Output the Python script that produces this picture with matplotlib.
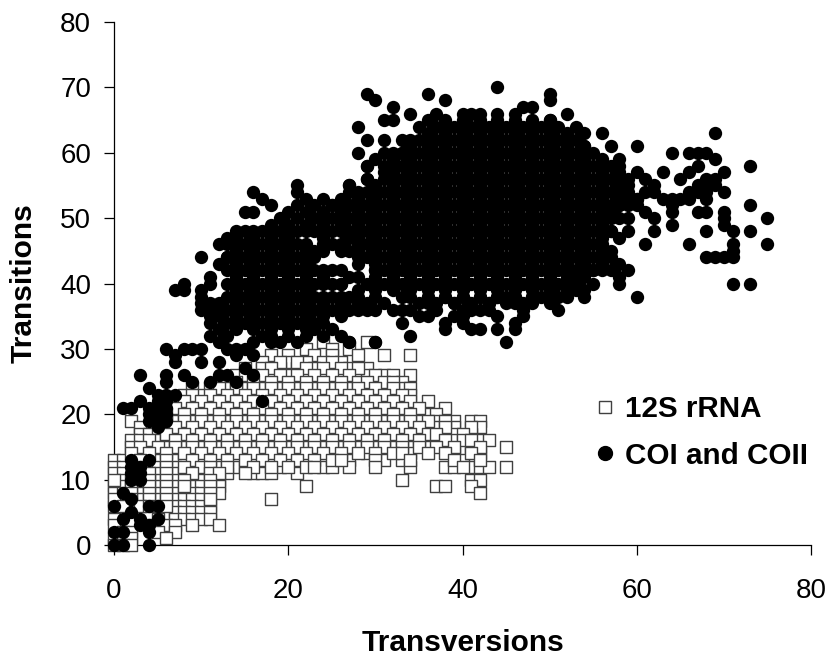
import matplotlib
matplotlib.use('Agg')
import matplotlib.pyplot as plt
from matplotlib.lines import Line2D

plt.rcParams['font.family'] = ['Liberation Sans', 'DejaVu Sans']

# 12S rRNA: transition counts and the transversion counts seen at each
rrna_t = [31, 30, 29, 28, 27, 26, 25, 24, 23, 22, 21, 20, 19, 18, 17, 16, 15, 14, 13, 12, 11, 10, 9, 8, 7, 6, 5, 4, 3, 2, 1, 0]
rrna_x = [
    [24, 29],
    [22, 25, 27],
    [18, 20, 23, 25, 28, 31, 34],
    [17, 20, 22, 24, 26],
    [15, 17, 19, 21, 23, 25, 27, 29],
    [14, 16, 18, 20, 22, 24, 26, 28, 29, 31, 32, 34],
    [13, 15, 17, 19, 21, 23, 25, 27, 30, 33],
    [9, 11, 13, 15, 17, 19, 21, 23, 25, 27, 29, 31, 33, 34],
    [8, 10, 12, 14, 16, 18, 20, 22, 24, 26, 28, 30, 32, 34],
    [7, 9, 11, 13, 15, 17, 19, 21, 23, 25, 27, 29, 31, 33, 36],
    [6, 8, 10, 12, 14, 16, 18, 20, 22, 24, 26, 28, 30, 32, 34, 38],
    [7, 9, 11, 13, 15, 17, 19, 21, 23, 25, 27, 29, 31, 33, 35, 36, 37],
    [2, 5, 7, 9, 11, 13, 15, 17, 19, 21, 23, 25, 27, 29, 31, 33, 35, 37, 39, 41, 42],
    [3, 5, 6, 8, 10, 12, 14, 16, 18, 20, 22, 24, 26, 28, 30, 32, 34, 36, 37, 39, 42],
    [3, 4, 5, 7, 9, 11, 13, 15, 17, 19, 21, 23, 25, 27, 29, 31, 33, 35, 38, 39, 41],
    [2, 3, 5, 6, 8, 10, 12, 14, 16, 18, 20, 22, 24, 26, 28, 30, 32, 34, 36, 39, 42, 43],
    [2, 4, 6, 8, 10, 12, 14, 16, 18, 20, 22, 24, 26, 28, 30, 32, 34, 36, 38, 41, 45],
    [3, 5, 7, 9, 11, 13, 15, 17, 19, 21, 23, 25, 27, 29, 31, 34, 39, 42],
    [0, 1, 5, 7, 8, 10, 12, 14, 16, 18, 20, 22, 24, 27, 31, 33, 40],
    [0, 1, 5, 7, 9, 12, 14, 15, 17, 19, 21, 24, 25, 27, 34, 38, 39, 41, 42, 43, 45],
    [0, 1, 3, 5, 7, 8, 10, 13, 16, 17, 18, 21],
    [1, 3, 5, 7, 9, 10, 12, 33, 41, 42],
    [0, 1, 3, 5, 7, 9, 10, 12, 22, 37, 38, 41],
    [0, 1, 3, 5, 7, 8, 9, 10, 12, 42],
    [1, 3, 5, 7, 8, 9, 10, 18],
    [0, 5, 7, 8, 9, 10, 11],
    [7, 8, 9, 10, 11],
    [0, 5, 7, 8, 9, 10, 11],
    [0, 4, 6, 7, 9, 12],
    [1, 2, 5, 7],
    [0, 1, 2, 6],
    [0, 1, 2],
]

rrna_more_t = [28, 27, 26, 25, 24, 23, 22, 21, 20, 19, 18, 17, 16, 15, 14, 13, 12, 11, 10, 9, 8, 7, 6]
rrna_more_x = [
    [19, 21, 25],
    [18, 22, 24, 26, 28],
    [15, 17, 19, 21, 23, 25, 27, 30],
    [14, 16, 18, 20, 22, 24, 26, 28, 29, 31, 32],
    [12, 14, 16, 18, 20, 22, 24, 26, 28, 30, 32],
    [9, 11, 13, 15, 17, 19, 21, 23, 25, 27, 29, 31, 33],
    [8, 10, 12, 14, 16, 18, 20, 22, 24, 26, 28, 30, 32, 34],
    [7, 9, 11, 13, 15, 17, 19, 21, 23, 25, 27, 29, 31, 33, 35],
    [6, 8, 10, 12, 14, 16, 18, 20, 22, 24, 26, 28, 30, 32, 34],
    [6, 8, 10, 12, 14, 16, 18, 20, 22, 24, 26, 28, 30, 32, 34, 36, 38],
    [7, 9, 11, 13, 15, 17, 19, 21, 23, 25, 27, 29, 31, 33, 35, 38, 41],
    [6, 8, 10, 12, 14, 16, 18, 20, 22, 24, 26, 28, 30, 32, 34, 36, 37, 40],
    [4, 7, 9, 11, 13, 15, 17, 19, 21, 23, 25, 27, 29, 31, 33, 35, 38, 40, 41],
    [3, 5, 7, 9, 11, 13, 15, 17, 19, 21, 23, 25, 27, 29, 31, 33, 35, 37, 39, 42],
    [2, 4, 6, 8, 10, 12, 14, 16, 18, 20, 22, 24, 26, 28, 30, 32, 33, 36, 38, 41],
    [3, 6, 9, 11, 13, 15, 17, 19, 21, 23, 25, 26, 30, 34, 39, 42],
    [3, 6, 8, 10, 11, 13, 16, 18, 20, 22, 23, 30, 40],
    [4, 6, 9, 11, 12, 15],
    [0, 2, 4, 6, 8, 11],
    [2, 4, 6, 8, 11],
    [2, 4, 6, 11],
    [0, 2, 4, 6, 11],
    [1, 3, 4, 6],
]

# COI and COII: the dense main cloud
main_t = [65, 64, 63, 62, 61, 60, 59, 58, 57, 56, 55, 54, 53, 52, 51, 50, 49, 48, 47, 46, 45, 44, 43, 42, 41, 40, 39, 38, 37]
main_x = [
    [38, 40, 42, 44, 46, 48, 50],
    [37, 39, 41, 43, 45, 47, 49, 51],
    [36, 38, 40, 42, 44, 46, 48, 50, 52],
    [33, 35, 37, 39, 41, 43, 45, 47, 49, 51, 53],
    [34, 36, 38, 40, 42, 44, 46, 48, 50, 52, 54],
    [33, 35, 37, 39, 41, 43, 45, 47, 49, 51, 53, 55],
    [32, 34, 36, 38, 40, 42, 44, 46, 48, 50, 52, 54, 56],
    [31, 33, 35, 37, 39, 41, 43, 45, 47, 49, 51, 53, 55, 57],
    [32, 34, 36, 38, 40, 42, 44, 46, 48, 50, 52, 54, 56, 58],
    [31, 33, 35, 37, 39, 41, 43, 45, 47, 49, 51, 53, 55, 57, 59],
    [30, 32, 34, 36, 38, 40, 42, 44, 46, 48, 50, 52, 54, 56, 58],
    [27, 29, 31, 33, 35, 37, 39, 41, 43, 45, 47, 49, 51, 53, 55, 57, 59],
    [26, 28, 30, 32, 34, 36, 38, 40, 42, 44, 46, 48, 50, 52, 54, 56, 58, 60],
    [25, 27, 29, 31, 33, 35, 37, 39, 41, 43, 45, 47, 49, 51, 53, 55, 57, 59],
    [24, 26, 28, 30, 32, 34, 36, 38, 40, 42, 44, 46, 48, 50, 52, 54, 56],
    [25, 27, 29, 31, 33, 35, 37, 39, 41, 43, 45, 47, 49, 51, 53, 55, 57],
    [24, 26, 28, 30, 32, 34, 36, 38, 40, 42, 44, 46, 48, 50, 52, 54, 56],
    [25, 27, 29, 31, 33, 35, 37, 39, 41, 43, 45, 47, 49, 51, 53, 55, 57],
    [28, 30, 32, 34, 36, 38, 40, 42, 44, 46, 48, 50, 52, 54, 56],
    [29, 31, 33, 35, 37, 39, 41, 43, 45, 47, 49, 51, 53, 55],
    [28, 30, 32, 34, 36, 38, 40, 42, 44, 46, 48, 50, 52, 54, 56],
    [29, 31, 33, 35, 37, 39, 41, 43, 45, 47, 49, 51, 53, 55],
    [30, 32, 34, 36, 38, 40, 42, 44, 46, 48, 50, 52, 54, 56],
    [31, 33, 35, 37, 39, 41, 43, 45, 47, 49, 51, 53, 55],
    [30, 32, 34, 36, 38, 40, 42, 44, 46, 48, 50, 52, 54],
    [31, 33, 35, 37, 39, 41, 43, 45, 47, 49, 51, 53],
    [34, 36, 38, 40, 42, 44, 46, 48, 50, 52],
    [34, 36, 38, 40, 42, 44, 46, 48, 50],
    [37, 39, 41, 43, 45, 47],
]

# COI and COII: further points that close the main cloud
main_more_t = [64, 62, 60, 58, 56, 54, 52, 50, 48, 46, 44, 42, 40, 38]
main_more_x = [
    [38, 40, 42, 44, 46, 48, 50],
    [34, 36, 38, 40, 42, 44, 46, 48, 50, 52],
    [32, 34, 36, 38, 40, 42, 44, 46, 48, 50, 52, 54],
    [32, 34, 36, 38, 40, 42, 44, 46, 48, 50, 52, 54, 56],
    [32, 34, 36, 38, 40, 42, 44, 46, 48, 50, 52, 54, 56, 58],
    [28, 30, 32, 34, 36, 38, 40, 42, 44, 46, 48, 50, 52, 54, 56, 58],
    [26, 28, 30, 32, 34, 36, 38, 40, 42, 44, 46, 48, 50, 52, 54, 56, 58],
    [26, 28, 30, 32, 34, 36, 38, 40, 42, 44, 46, 48, 50, 52, 54, 56],
    [26, 28, 30, 32, 34, 36, 38, 40, 42, 44, 46, 48, 50, 52, 54, 56],
    [28, 30, 32, 34, 36, 38, 40, 42, 44, 46, 48, 50, 52, 54],
    [28, 30, 32, 34, 36, 38, 40, 42, 44, 46, 48, 50, 52, 54],
    [30, 32, 34, 36, 38, 40, 42, 44, 46, 48, 50, 52, 54],
    [30, 32, 34, 36, 38, 40, 42, 44, 46, 48, 50, 52],
    [36, 38, 40, 42, 44, 46, 48],
]

# COI and COII: the smaller cloud on the left
left_t = [52, 51, 50, 49, 48, 47, 46, 45, 44, 43, 42, 41, 40, 39, 38, 37, 36, 35, 34, 33, 32]
left_x = [
    [21, 23],
    [20, 22, 24],
    [19, 21, 23],
    [18, 20, 22],
    [15, 17, 19, 21, 23],
    [14, 16, 18, 20, 24],
    [13, 15, 17, 19, 21, 25],
    [14, 16, 18, 20, 24, 26],
    [13, 15, 17, 19, 21, 23],
    [14, 16, 18, 20, 22],
    [13, 15, 17, 19, 21, 23],
    [14, 16, 18, 20, 22, 24],
    [13, 15, 17, 19, 21, 23, 25],
    [14, 16, 18, 20, 22],
    [13, 15, 17, 19, 21, 23, 25, 27],
    [12, 14, 16, 18, 20, 22, 24, 26],
    [11, 13, 15, 17, 19, 21, 23, 25, 27],
    [12, 14, 16, 18, 20, 22, 24, 26],
    [13, 15, 17, 19, 21, 23, 24],
    [14, 16, 18, 20, 22],
    [13, 18, 20],
]

left_more_t = [48, 46, 44, 42, 40, 38, 36, 34]
left_more_x = [
    [16, 18, 20, 22],
    [14, 16, 18, 20, 22],
    [14, 16, 18, 20, 22],
    [14, 16, 18, 20, 22, 24],
    [14, 16, 18, 20, 22, 24, 26],
    [14, 16, 18, 20, 22, 24, 26, 28],
    [12, 14, 16, 18, 20, 22, 24, 26, 28],
    [14, 16, 18, 20, 22],
]

# COI and COII: separate points around the clouds, (transversions, transitions)
coi_low = [(0, 0), (1, 0), (4, 0), (0, 2), (1, 2), (4, 2), (3, 3), (4, 3), (1, 4), (5, 4), (2, 5), (3, 4), (0, 6),
           (2, 7), (1, 8), (4, 6), (5, 6), (2, 13), (4, 13), (2, 10), (3, 10), (2, 11), (3, 11), (2, 12), (3, 12)]
coi_mid = [(1, 21), (2, 21), (3, 22), (4, 24), (3, 26), (5, 18), (4, 19), (5, 19), (6, 19), (4, 20), (5, 20), (6, 20),
           (4, 21), (5, 21), (6, 21), (5, 22), (6, 22), (5, 23), (6, 23), (7, 23), (6, 26), (6, 25), (8, 26), (9, 25),
           (6, 30), (8, 30), (9, 30), (10, 30), (10, 28), (7, 29), (7, 28), (11, 25), (12, 26), (13, 26), (14, 25),
           (15, 27), (16, 26), (13, 30), (12, 28), (14, 29), (14, 30), (11, 32), (12, 33), (12, 31), (15, 30), (16, 29),
           (16, 31), (17, 32), (18, 31), (19, 31), (21, 31), (22, 32), (24, 32), (17, 22)]
coi_left_edge = [(16, 54), (17, 53), (18, 52), (15, 51), (16, 51), (21, 55), (21, 54), (22, 53), (27, 55), (29, 58),
                 (29, 56), (14, 48), (12, 46), (10, 44), (12, 43), (11, 41), (8, 40), (7, 39), (8, 39), (10, 39), (10, 38),
                 (10, 37), (10, 36), (11, 35), (11, 34), (11, 37), (11, 40), (13, 44), (13, 47), (23, 33), (25, 33), (26, 32),
                 (27, 31), (30, 31), (25, 52), (26, 52), (27, 52), (24, 53), (28, 50), (29, 37), (30, 38), (31, 37), (33, 36),
                 (24, 50), (24, 48), (24, 46), (26, 46), (27, 47), (23, 45), (22, 45), (26, 42), (27, 41), (25, 42), (26, 40)]
coi_top = [(29, 69), (30, 68), (32, 67), (34, 66), (31, 65), (32, 65), (28, 64), (36, 69), (38, 68), (44, 70), (50, 69),
           (50, 68), (37, 66), (29, 62), (31, 62), (28, 60), (32, 59), (29, 58), (29, 56), (31, 57), (27, 55), (40, 66),
           (41, 66), (42, 66), (44, 66), (46, 66), (47, 67), (48, 67), (52, 66), (53, 64), (54, 63), (54, 61), (56, 63),
           (57, 61), (60, 61), (35, 64), (36, 65), (50, 65), (31, 60), (33, 60), (30, 59)]
coi_right = [(64, 60), (66, 60), (67, 60), (68, 60), (69, 63), (69, 59), (67, 58), (66, 57), (65, 56), (63, 57), (60, 57),
             (58, 59), (58, 58), (70, 57), (73, 58), (70, 54), (68, 56), (69, 56), (67, 55), (66, 54), (68, 55), (68, 54),
             (68, 53), (67, 51), (68, 51), (70, 51), (70, 50), (70, 49), (71, 48), (73, 52), (75, 50), (73, 48), (75, 46),
             (68, 48), (66, 46), (71, 46), (71, 45), (68, 44), (69, 44), (70, 44), (71, 44), (71, 40), (73, 40), (61, 46),
             (62, 48), (64, 49), (64, 51), (62, 50), (61, 51), (60, 52), (62, 55), (61, 56), (61, 54), (63, 53), (64, 53),
             (65, 53), (64, 52), (59, 55), (59, 50), (59, 48), (57, 51), (58, 47), (57, 45), (58, 43), (57, 42), (59, 42),
             (60, 53), (62, 54), (67, 54), (69, 55), (66, 53), (56, 44), (57, 44), (56, 46), (57, 48), (56, 50), (58, 50),
             (58, 52), (58, 54), (59, 53), (56, 42), (55, 42)]
coi_bottom = [(58, 40), (58, 41), (60, 38), (55, 40), (54, 39), (54, 38), (52, 38), (51, 38), (51, 36), (53, 41), (47, 36),
              (47, 35), (46, 37), (45, 38), (44, 35), (44, 33), (46, 34), (46, 33), (45, 31), (38, 34), (38, 33), (41, 33),
              (42, 33), (40, 34), (41, 36), (39, 37), (37, 36), (35, 37), (34, 36), (33, 34), (34, 32), (32, 36), (30, 36),
              (29, 36), (28, 37), (30, 31), (27, 31), (28, 39), (32, 39), (33, 38), (30, 39), (29, 40), (28, 41), (28, 43),
              (30, 42), (32, 43), (27, 45), (36, 37), (40, 36), (42, 36), (43, 37), (49, 38), (35, 35), (36, 35), (39, 35),
              (40, 35), (43, 36), (48, 37), (50, 37), (50, 39), (52, 40), (53, 39)]

x_ticks = [0, 20, 40, 60, 80]
y_ticks = [0, 10, 20, 30, 40, 50, 60, 70, 80]

fig = plt.figure(figsize=(8.31, 6.63), dpi=100)
ax = fig.add_axes([114 / 831, 1 - 545 / 663, 697 / 831, 523 / 663])

# squares first, every one white inside so they cover each other
for ts, rows in [(rrna_t, rrna_x), (rrna_more_t, rrna_more_x)]:
    for t, xs in zip(ts, rows):
        ax.scatter(xs, [t] * len(xs), marker='s', s=72, facecolor='white', edgecolor='#404040',
                   linewidth=1.0, clip_on=False, zorder=3)

for ts, rows in [(main_t, main_x), (main_more_t, main_more_x), (left_t, left_x), (left_more_t, left_more_x)]:
    for t, xs in zip(ts, rows):
        ax.scatter(xs, [t] * len(xs), marker='o', s=92, color='black', linewidth=0, clip_on=False, zorder=4)
for pts in [coi_low, coi_mid, coi_left_edge, coi_top, coi_right, coi_bottom]:
    ax.scatter([p[0] for p in pts], [p[1] for p in pts], marker='o', s=92, color='black', linewidth=0,
               clip_on=False, zorder=4)

ax.set_xlim(0, 80)
ax.set_ylim(0, 80)
ax.set_xticks(x_ticks)
ax.set_yticks(y_ticks)
ax.tick_params(length=7.5, width=0.9, labelsize=20)
ax.tick_params(axis='x', pad=16.5)
ax.tick_params(axis='y', pad=9)
ax.spines['top'].set_visible(False)
ax.spines['right'].set_visible(False)
for side in ['left', 'bottom']:
    ax.spines[side].set_linewidth(0.9)
ax.set_xlabel('Transversions', fontsize=21.5, fontweight='bold', labelpad=17.5)
ax.set_ylabel('Transitions', fontsize=21.5, fontweight='bold', labelpad=16)

handles = [
    Line2D([], [], linestyle='none', marker='s', markersize=8.5, markerfacecolor='white',
           markeredgecolor='#404040', markeredgewidth=1.0),
    Line2D([], [], linestyle='none', marker='o', markersize=10, color='black'),
]
ax.legend(handles, ['12S rRNA', 'COI and COII'], loc='upper left', bbox_to_anchor=(0.686, 0.287),
          frameon=False, prop={'size': 21.3, 'weight': 'bold'}, labelspacing=0.64, handletextpad=0.2,
          handlelength=0.9, borderpad=0, borderaxespad=0)

fig.savefig('out.png', dpi=100)
